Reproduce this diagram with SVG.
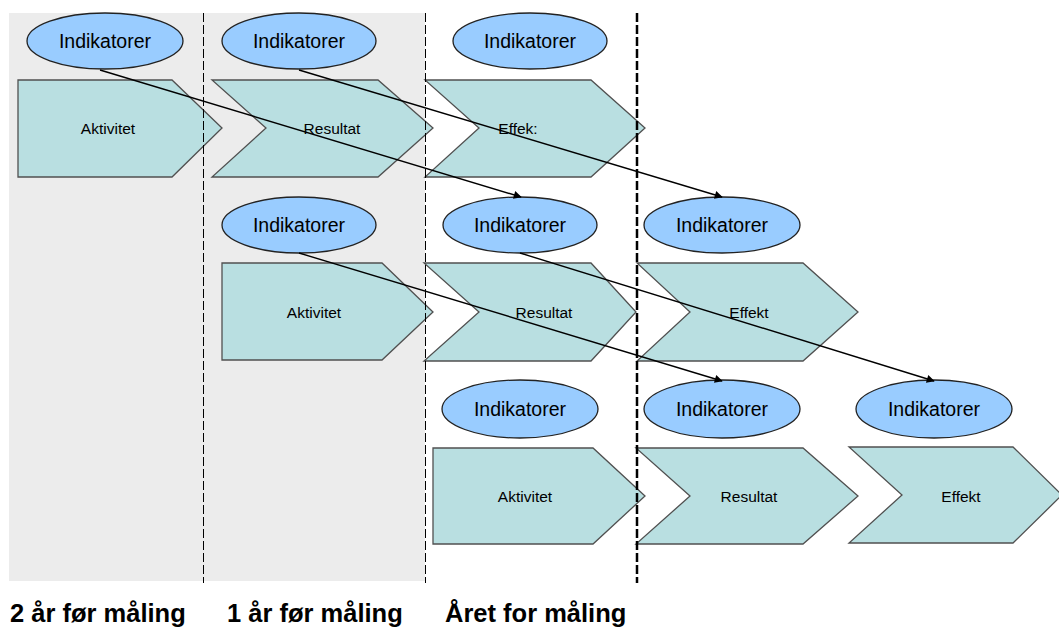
<svg xmlns="http://www.w3.org/2000/svg" width="1059" height="631" viewBox="0 0 1059 631">
<defs>
<style>
.ind{fill:#99CCFF;stroke:#222;stroke-width:1.3}
.box{fill:#B9DFE1;stroke:#505050;stroke-width:1.3}
.t1{font-family:"Liberation Sans",Arial,sans-serif;font-size:19.5px;fill:#000;text-anchor:middle}
.t2{font-family:"Liberation Sans",Arial,sans-serif;font-size:15.5px;fill:#000;text-anchor:middle}
.lab{font-family:"Liberation Sans",Arial,sans-serif;font-size:25.5px;font-weight:bold;fill:#000}
.conn{stroke:#000;stroke-width:1.4;fill:none;marker-end:url(#arr)}
.dash{stroke:#000;stroke-width:1;stroke-dasharray:9 3}
.dash.thick{stroke-width:2.5}
</style>
<marker id="arr" viewBox="0 0 10 10" refX="9" refY="5" markerWidth="9" markerHeight="8" markerUnits="userSpaceOnUse" orient="auto">
<path d="M0,0 L10,5 L0,10 z" fill="#000"/>
</marker>
</defs>
<rect x="0" y="0" width="1059" height="631" fill="#fff"/>
<rect x="9" y="13" width="416" height="568" fill="#ECECEC"/>

<g id="row1">
<g id="r1-akt"><path class="box" d="M18,80 H172 L222,128 L172,177 H18 Z"/><text class="t2" x="108" y="134">Aktivitet</text></g>
<g id="r1-res"><path class="box" d="M212,80 H378 L433,128 L378,177 H212 L266,128 Z"/><text class="t2" x="332" y="134">Resultat</text></g>
<g id="r1-eff"><path class="box" d="M425,80 H591 L645,128 L591,177 H425 L479,128 Z"/><text class="t2" x="518" y="134">Effek:</text></g>
<g id="r1-ind1"><ellipse class="ind" cx="105" cy="41" rx="78" ry="28"/><text class="t1" x="105" y="48">Indikatorer</text></g>
<g id="r1-ind2"><ellipse class="ind" cx="299" cy="41" rx="77" ry="28"/><text class="t1" x="299" y="48">Indikatorer</text></g>
<g id="r1-ind3"><ellipse class="ind" cx="530" cy="41" rx="77" ry="28"/><text class="t1" x="530" y="48">Indikatorer</text></g>
</g>

<g id="row2">
<g id="r2-akt"><path class="box" d="M222,263 H382 L433,312 L382,360 H222 Z"/><text class="t2" x="314" y="318">Aktivitet</text></g>
<g id="r2-res"><path class="box" d="M424,263 H591 L636,312 L591,361 H424 L479,312 Z"/><text class="t2" x="544" y="318">Resultat</text></g>
<g id="r2-eff"><path class="box" d="M637,263 H803 L858,312 L803,361 H637 L690,312 Z"/><text class="t2" x="749" y="318">Effekt</text></g>
<g id="r2-ind1"><ellipse class="ind" cx="299" cy="225" rx="77" ry="28"/><text class="t1" x="299" y="232">Indikatorer</text></g>
<g id="r2-ind2"><ellipse class="ind" cx="520" cy="225" rx="77" ry="28"/><text class="t1" x="520" y="232">Indikatorer</text></g>
<g id="r2-ind3"><ellipse class="ind" cx="722" cy="225" rx="78" ry="28"/><text class="t1" x="722" y="232">Indikatorer</text></g>
</g>

<g id="row3">
<g id="r3-akt"><path class="box" d="M433,448 H593 L645,496 L593,544 H433 Z"/><text class="t2" x="525" y="502">Aktivitet</text></g>
<g id="r3-res"><path class="box" d="M636,448 H803 L858,496 L803,544 H636 L690,496 Z"/><text class="t2" x="749" y="502">Resultat</text></g>
<g id="r3-eff"><path class="box" d="M849,447 H1013 L1062,495 L1013,543 H849 L902,495 Z"/><text class="t2" x="961" y="502">Effekt</text></g>
<g id="r3-ind1"><ellipse class="ind" cx="520" cy="409" rx="78" ry="29"/><text class="t1" x="520" y="416">Indikatorer</text></g>
<g id="r3-ind2"><ellipse class="ind" cx="722" cy="409" rx="78" ry="29"/><text class="t1" x="722" y="416">Indikatorer</text></g>
<g id="r3-ind3"><ellipse class="ind" cx="934" cy="409" rx="78" ry="29"/><text class="t1" x="934" y="416">Indikatorer</text></g>
</g>

<g id="dividers">
<line class="dash" x1="203.5" y1="13" x2="203.5" y2="583"/>
<line class="dash" x1="425.5" y1="13" x2="425.5" y2="583"/>
<line class="dash thick" x1="637" y1="13" x2="637" y2="583"/>
</g>

<g id="connectors">
<line class="conn" x1="100" y1="70" x2="521" y2="197"/>
<line class="conn" x1="299" y1="70" x2="722" y2="197"/>
<line class="conn" x1="299" y1="253" x2="722" y2="381"/>
<line class="conn" x1="520" y1="253" x2="934" y2="381"/>
</g>

<g id="labels">
<text class="lab" x="10" y="622">2 år før måling</text>
<text class="lab" x="227" y="622">1 år før måling</text>
<text class="lab" x="445" y="622">Året for måling</text>
</g>
</svg>
